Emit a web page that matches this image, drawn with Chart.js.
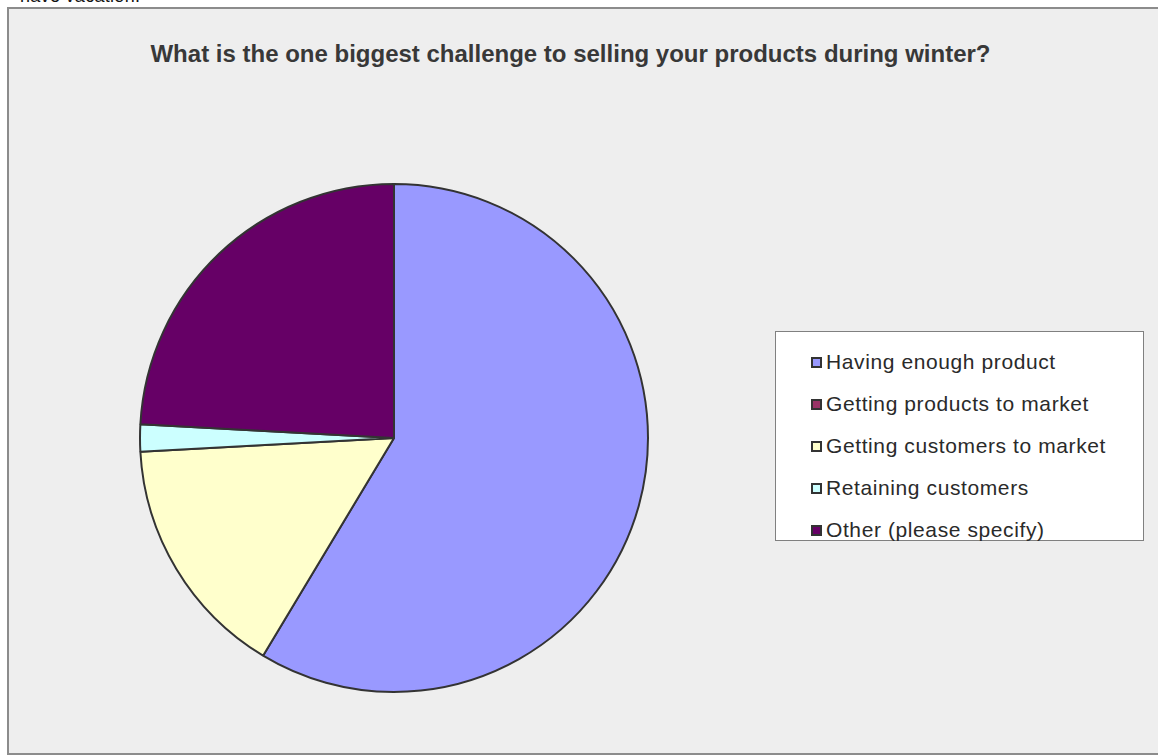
<!DOCTYPE html>
<html>
<head>
<meta charset="utf-8">
<script src="https://cdn.jsdelivr.net/npm/chart.js@4/dist/chart.umd.min.js"></script>
<style>
  html, body { margin: 0; padding: 0; background: #fff; overflow: hidden; }
  body { width: 1158px; height: 755px; position: relative; font-family: "Liberation Sans", Arial, sans-serif; }
  #prev { position: absolute; left: 20px; top: -14px; font-size: 18px; color: #111; letter-spacing: 0.3px; }
  #frame { position: absolute; left: 7px; top: 7px; width: 1160px; height: 744px;
           background: #eeeeee; border: 2px solid #8c8c8c; }
  #title { position: absolute; left: 0; width: 1123px; top: 31px; text-align: center;
           font-size: 24px; font-weight: bold; color: #383838; white-space: nowrap; }
  #chartWrap { position: absolute; left: 0; top: 0; width: 1150px; height: 744px; }
  #legend { position: absolute; left: 766px; top: 322px; width: 369px; height: 210px;
            background: #fff; border: 1px solid #808080; box-sizing: border-box;
            padding-top: 9px; }
  .item { height: 42px; display: flex; align-items: center; padding-left: 35px;
          font-size: 21px; letter-spacing: 0.6px; color: #2a2a2a; }
  .item span.box { width: 7px; height: 7px; border: 2px solid #333; margin-right: 4px; }
</style>
</head>
<body>
<div id="prev">have vacation.</div>
<div id="frame">
  <div id="title">What is the one biggest challenge to selling your products during winter?</div>
  <div id="chartWrap"><canvas id="pie"></canvas></div>
  <div id="legend"></div>
</div>
<script>
const categories = [
    'Having enough product',
    'Getting products to market',
    'Getting customers to market',
    'Retaining customers',
    'Other (please specify)'
];
const responses = [34, 0, 9, 1, 14];
const sliceColors = ['#9999ff', '#993366', '#ffffcc', '#ccffff', '#660066'];

function renderLegend() {
    const el = document.getElementById('legend');
    el.innerHTML = '';
    categories.forEach((name, i) => {
        el.innerHTML += `<div class="item"><span class="box" style="background:${sliceColors[i]}"></span>${name}</div>`;
    });
}

function renderChart() {
    const ctx = document.getElementById('pie').getContext('2d');
    // pie sits in a square area: left 130, top 174, side 510 (frame coords)
    new Chart(ctx, {
        type: 'pie',
        data: {
            labels: categories,
            datasets: [{
                data: responses,
                backgroundColor: sliceColors,
                borderColor: '#333333',
                borderWidth: 2,
                borderAlign: 'center'
            }]
        },
        options: {
            responsive: true,
            maintainAspectRatio: false,
            animation: false,
            layout: { padding: { left: 130, top: 174, right: 1150 - 640, bottom: 744 - 684 } },
            plugins: {
                legend: { display: false },
                tooltip: { enabled: false }
            }
        }
    });
}

renderLegend();
renderChart();
</script>
</body>
</html>
